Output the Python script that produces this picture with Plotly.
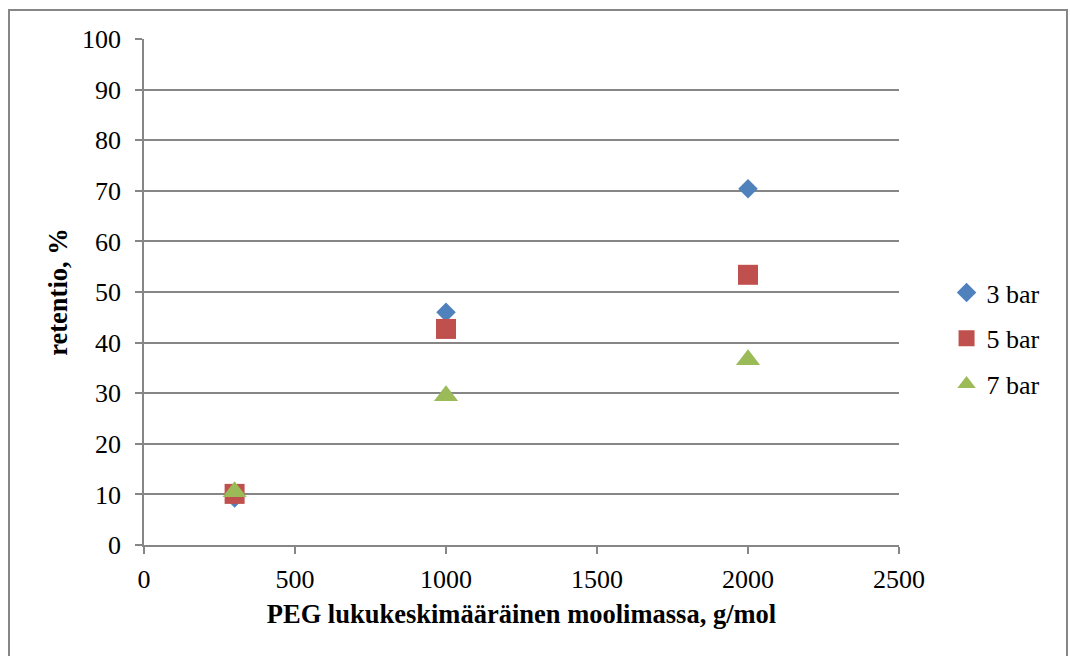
import plotly.graph_objects as go

# PEG molar mass (g/mol) and retention (%) at three pressures
molar_mass = [300, 1000, 2000]
retention_3bar = [9.3, 46.0, 70.4]
retention_5bar = [10.1, 42.7, 53.4]
retention_7bar = [10.5, 29.5, 36.6]

series = [
    ("3 bar", retention_3bar, "diamond", 15, "#4F81BD"),
    ("5 bar", retention_5bar, "square", 20, "#C0504D"),
    ("7 bar", retention_7bar, "triangle-up", 21, "#9BBB59"),
]

fig = go.Figure()
for name, vals, sym, size, color in series:
    fig.add_trace(go.Scatter(
        x=molar_mass, y=vals, mode="markers", name=name, legendgroup=name,
        marker=dict(symbol=sym, size=size, color=color, line=dict(width=0)),
    ))

font_family = "Liberation Serif, Times New Roman, serif"
axis_gray = "#868686"

fig.update_layout(
    width=1070, height=656,
    margin=dict(l=144, r=171, t=39, b=111),
    paper_bgcolor="white", plot_bgcolor="white",
    font=dict(family=font_family, size=26, color="black"),
    showlegend=True,
    legend=dict(x=1.063, y=0.408, xanchor="left", yanchor="middle",
                font=dict(size=26), tracegroupgap=9, bgcolor="rgba(0,0,0,0)"),
    xaxis=dict(
        range=[0, 2500], dtick=500, tick0=0,
        showgrid=False, zeroline=False,
        showline=True, linecolor=axis_gray, linewidth=1.5,
        ticks="outside", ticklen=7, tickcolor=axis_gray, tickwidth=1.5,
        ticklabelstandoff=3,
        title=dict(text="<b>PEG lukukeskimääräinen moolimassa, g/mol</b>",
                   font=dict(size=26.5), standoff=11),
        tickfont=dict(size=26),
    ),
    yaxis=dict(
        range=[0, 100], dtick=10, tick0=0,
        showgrid=True, gridcolor=axis_gray, gridwidth=1.5,
        zeroline=False,
        showline=True, linecolor=axis_gray, linewidth=1.5,
        ticks="outside", ticklen=7, tickcolor=axis_gray, tickwidth=1.5,
        ticklabelstandoff=9,
        title=dict(text="<b>retentio, %</b>", font=dict(size=26.5), standoff=7),
        tickfont=dict(size=26),
    ),
    shapes=[dict(
        type="rect", xref="paper", yref="paper",
        x0=-0.1788, x1=1.2225, y0=-0.3, y1=1.0573,
        line=dict(color=axis_gray, width=2), fillcolor="rgba(0,0,0,0)", layer="below",
    )],
)

fig.write_html("out.html")
